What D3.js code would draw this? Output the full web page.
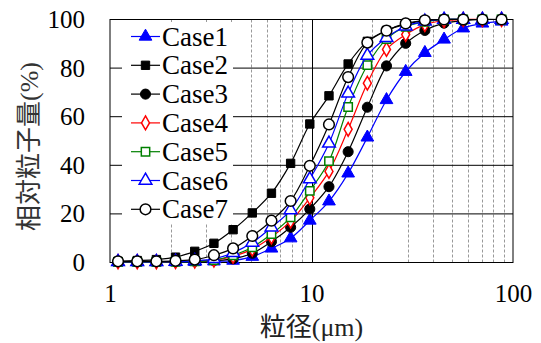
<!DOCTYPE html>
<meta charset="utf-8">
<script src='https://d3js.org/d3.v7.min.js'></script>
<body style="margin:0">
<script>
// Particle sizes (µm), shared by every case
const sizes = [1.096, 1.365, 1.699, 2.115, 2.634, 3.279, 4.082, 5.083, 6.328, 7.878, 9.808,
	12.21, 15.20, 18.93, 23.56, 29.34, 36.53, 45.48, 56.62, 70.49, 87.76];

// Cumulative amount (%) for each case
const case1 = [0.2, 0.2, 0.2, 0.2, 0.3, 0.5, 0.8, 2.4, 5.8, 10, 17.3, 25.2, 36.7, 51.5, 66.9, 78.5, 86.3, 91.8, 96.4, 98.4, 99.2];
const case2 = [0.5, 0.8, 1.2, 2.2, 4.6, 7.9, 13.5, 20.4, 28.5, 40.8, 57, 68.6, 81.7, 91, 95.5, 98, 99.5, 100, 100, 100, 100];
const case3 = [0.3, 0.3, 0.3, 0.3, 0.5, 0.8, 1.5, 3.8, 8.6, 14.5, 22, 31.2, 45.6, 63.9, 80.9, 90.2, 95.5, 98.5, 99.5, 100, 100];
const case4 = [0.3, 0.3, 0.3, 0.4, 0.6, 1.0, 2.5, 5.5, 10.5, 17, 26.6, 37.5, 54.8, 73.8, 87.7, 93.8, 97.9, 99.5, 100, 100, 100];
const case5 = [0.2, 0.2, 0.2, 0.3, 0.5, 1.0, 3.0, 6.3, 11.7, 18.6, 29.5, 41.7, 64, 81.2, 91.9, 97, 99, 100, 100, 100, 100];
const case6 = [0.3, 0.3, 0.3, 0.4, 0.7, 1.5, 4.0, 8.2, 14.5, 21.6, 34.3, 49, 69.6, 85.2, 92.5, 97.2, 99.2, 100, 100, 100, 100];
const case7 = [0.5, 0.5, 0.5, 0.7, 1.2, 3.0, 5.8, 10.9, 17.2, 25.3, 39.8, 56.8, 76.3, 90.5, 95.4, 98.4, 99.7, 100, 100, 100, 100];

const serieNames = ['Case1', 'Case2', 'Case3', 'Case4', 'Case5', 'Case6', 'Case7'];
const serieValues = [case1, case2, case3, case4, case5, case6, case7];

const xTicks = [1, 10, 100];
const yTicks = [0, 20, 40, 60, 80, 100];
// Titles: CJK part and the unit part
const xTitle = ['粒径', '(μm)'];
const yTitle = ['相対粒子量', '(%)'];

// Marker style per case: symbol, colour, filled or not
const styles = [
	{ symbol: d3.symbolTriangle, color: '#0000ff', fill: true, size: 70 },
	{ symbol: d3.symbolSquare, color: '#000000', fill: true, size: 70 },
	{ symbol: d3.symbolCircle, color: '#000000', fill: true, size: 80 },
	{ symbol: d3.symbolDiamond, color: '#ff0000', fill: false, size: 55 },
	{ symbol: d3.symbolSquare, color: '#008000', fill: false, size: 70 },
	{ symbol: d3.symbolTriangle, color: '#0000ff', fill: false, size: 70 },
	{ symbol: d3.symbolCircle, color: '#000000', fill: false, size: 90 },
];

const width = 541;
const height = 343;
const margin = { top: 19.5, right: 28, bottom: 80.5, left: 110 };
const serif = "'Liberation Serif'";
const cjk = "'Noto Sans CJK JP'";
const tickFont = 25;
const legendFont = 27;
const titleFont = 26;

const svg = d3.select('body')
	.append('svg')
		.attr('width', width)
		.attr('height', height);

const x = d3.scaleLog()
	.domain([1, 100])
	.range([margin.left, width - margin.right]);
const y = d3.scaleLinear()
	.domain([0, 100])
	.range([height - margin.bottom, margin.top]);

// Minor vertical gridlines (dashed)
const minor = x.ticks().filter(v => !xTicks.includes(v));
svg.append('g')
	.selectAll('line')
	.data(minor)
	.enter()
		.append('line')
		.attr('x1', d => Math.round(x(d)) + 0.5)
		.attr('x2', d => Math.round(x(d)) + 0.5)
		.attr('y1', y(100))
		.attr('y2', y(0))
		.attr('stroke', '#999')
		.attr('stroke-dasharray', '3,2');

// Major vertical gridline at 10
svg.append('line')
	.attr('x1', Math.round(x(10)) + 0.5)
	.attr('x2', Math.round(x(10)) + 0.5)
	.attr('y1', y(100))
	.attr('y2', y(0))
	.attr('stroke', '#000');

// Horizontal gridlines
svg.append('g')
	.selectAll('line')
	.data(yTicks.slice(1, -1))
	.enter()
		.append('line')
		.attr('x1', x(1))
		.attr('x2', x(100))
		.attr('y1', d => y(d))
		.attr('y2', d => y(d))
		.attr('stroke', '#000');

// Plot frame
svg.append('rect')
	.attr('x', x(1))
	.attr('y', y(100))
	.attr('width', x(100) - x(1))
	.attr('height', y(0) - y(100))
	.attr('fill', 'none')
	.attr('stroke', '#000');

// Axes, no tick marks
const bottomAxis = svg.append('g')
	.attr('transform', `translate(0, ${y(0)})`)
	.call(
		d3.axisBottom(x)
			.tickValues(xTicks)
			.tickFormat(d3.format('d'))
			.tickSize(0)
			.tickPadding(22)
	);
const leftAxis = svg.append('g')
	.attr('transform', `translate(${x(1)}, 0)`)
	.call(
		d3.axisLeft(y)
			.tickValues(yTicks)
			.tickSize(0)
			.tickPadding(25)
	);
[bottomAxis, leftAxis].forEach(axis => {
	axis.select('.domain').remove();
	axis.attr('font-family', 'Liberation Serif')
		.attr('font-size', tickFont);
	axis.selectAll('text')
		.style('font-family', serif)
		.attr('font-size', tickFont)
		.attr('fill', '#000');
});

// Axis titles
const xt = svg.append('text')
	.attr('x', (x(1) + x(100)) / 2)
	.attr('y', 336)
	.attr('text-anchor', 'middle')
	.attr('font-size', titleFont)
	.attr('fill', '#222');
xt.append('tspan').style('font-family', cjk).text(xTitle[0]);
xt.append('tspan').style('font-family', serif).text(xTitle[1]);

const yt = svg.append('text')
	.attr('transform', 'translate(38, 231) rotate(-90)')
	.attr('text-anchor', 'start')
	.attr('font-size', titleFont)
	.attr('fill', '#333');
yt.append('tspan').style('font-family', cjk).text(yTitle[0]);
yt.append('tspan').style('font-family', serif).text(yTitle[1]);

// Curves and markers
const line = d3.line()
	.x((d, i) => x(sizes[i]))
	.y(d => y(d))
	.curve(d3.curveCatmullRom.alpha(0.5));

function drawMarker(sel, style) {
	sel.attr('d', d3.symbol().type(style.symbol).size(style.size))
		.attr('fill', style.fill ? style.color : '#fff')
		.attr('stroke', style.color)
		.attr('stroke-width', style.fill ? 1 : 1.5);
}

serieValues.forEach((values, k) => {
	const style = styles[k];
	const g = svg.append('g');
	g.append('path')
		.attr('d', line(values))
		.attr('fill', 'none')
		.attr('stroke', style.color)
		.attr('stroke-width', 1.2);
	g.selectAll('path.m')
		.data(values)
		.enter()
			.append('path')
			.attr('class', 'm')
			.attr('transform', (d, i) => `translate(${x(sizes[i])}, ${y(d)})`)
			.call(drawMarker, style);
});

// Legend, white box at top left of the plot
const legend = svg.append('g');
legend.append('rect')
	.attr('x', 122)
	.attr('y', 22)
	.attr('width', 111)
	.attr('height', 202)
	.attr('fill', '#fff');
const item = legend.selectAll('g')
	.data(serieNames)
	.enter()
		.append('g')
		.attr('transform', (d, i) => `translate(0, ${36.5 + i * 28.8})`);
item.append('line')
	.attr('x1', 131)
	.attr('x2', 160)
	.attr('stroke', (d, i) => styles[i].color)
	.attr('stroke-width', 1.2);
item.append('path')
	.attr('transform', 'translate(145.5, 0)')
	.each(function (d, i) {
		d3.select(this).call(drawMarker, styles[i]);
	});
item.append('text')
	.attr('x', 162)
	.attr('y', 9)
	.style('font-family', serif)
	.attr('font-size', legendFont)
	.attr('fill', '#000')
	.text(d => d);
</script>
</body>
